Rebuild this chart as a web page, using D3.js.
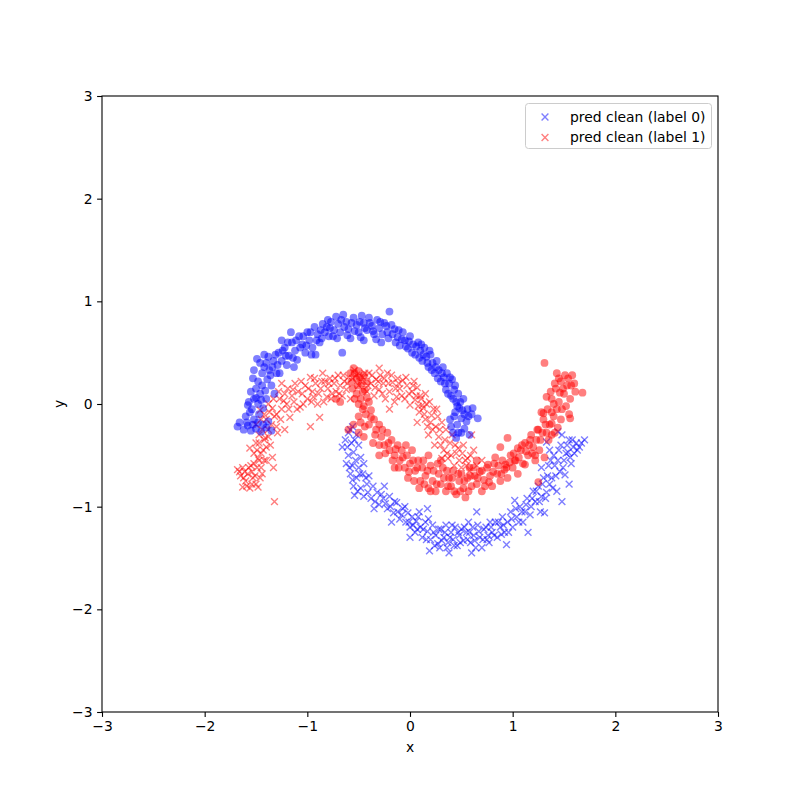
<!DOCTYPE html>
<html>
<head>
<meta charset="utf-8">
<script src="https://cdn.jsdelivr.net/npm/d3@7"></script>
<style>
  html, body { margin: 0; padding: 0; background: #fff; }
  text { font-family: "DejaVu Sans", sans-serif; }
</style>
</head>
<body>
<svg id="chart" width="800" height="800"></svg>
<script>
// ---------- data ----------
const ticks = [-3, -2, -1, 0, 1, 2, 3];
const legendLabels = ["pred clean (label 0)", "pred clean (label 1)"];

const blueCircles = [
[-1.68,-0.22],[-1.62,-0.25],[-1.58,-0.21],[-1.55,-0.26],[-1.50,-0.24],[-1.45,-0.27],[-1.40,-0.23],[-1.35,-0.26],
[-1.60,-0.12],[-1.56,-0.08],[-1.52,-0.15],[-1.47,-0.10],[-1.57,0.02],[-1.52,0.05],[-1.48,0.00],[-1.43,-0.04],
[-1.55,0.12],[-1.50,0.15],[-1.46,0.10],[-1.41,0.13],[-1.53,0.25],[-1.48,0.22],[-1.44,0.30],[-1.39,0.24],[-1.35,0.18],
[-1.46,0.40],[-1.42,0.36],[-1.37,0.33],[-1.33,0.42],[-1.30,0.30],[-1.38,0.46],[-1.32,0.10],[-1.40,0.05],
[-1.28,0.50],[-1.25,0.42],[-1.22,0.55],[-1.20,0.38],[-1.18,0.47],[-1.15,0.60],[-1.12,0.52],[-1.10,0.43],[-1.08,0.66],
[-1.05,0.58],[-1.02,0.50],[-1.00,0.70],[-0.98,0.62],[-0.95,0.55],[-0.93,0.75],[-0.90,0.68],[-0.88,0.60],[-0.85,0.78],
[-0.83,0.70],[-1.16,0.70],[-1.25,0.62],[-0.92,0.48],
[-0.80,0.82],[-0.78,0.74],[-0.75,0.66],[-0.72,0.85],[-0.70,0.78],[-0.68,0.70],[-0.65,0.87],[-0.62,0.80],[-0.60,0.73],
[-0.58,0.64],[-0.55,0.84],[-0.52,0.77],[-0.50,0.70],[-0.47,0.86],[-0.45,0.79],[-0.42,0.72],[-0.40,0.84],[-0.37,0.76],
[-0.35,0.68],[-0.32,0.82],[-0.30,0.74],[-0.28,0.60],[-0.25,0.79],[-0.22,0.70],[-0.20,0.90],[-0.66,0.50],[-0.45,0.62],[-0.18,0.77],
[-0.15,0.73],[-0.12,0.65],[-0.10,0.57],[-0.07,0.70],[-0.05,0.62],[-0.02,0.54],[0.00,0.66],[0.03,0.58],[0.05,0.48],
[0.08,0.60],[0.10,0.52],[0.12,0.42],[0.14,0.55],[0.16,0.46],[0.18,0.36],[0.20,0.48],[0.22,0.40],[0.24,0.30],[0.26,0.42],
[0.28,0.33],[0.30,0.22],[0.32,0.36],[0.33,0.26],[0.35,0.14],[0.36,0.30],[0.38,0.20],[0.40,0.08],[0.41,0.24],[0.43,0.14],
[0.45,0.02],[0.44,-0.08],[0.47,0.10],[0.48,-0.04],[0.50,-0.14],[0.46,-0.20],[0.52,0.05],[0.53,-0.10],[0.55,-0.17],
[0.50,-0.28],[0.45,-0.33],[0.57,-0.12],[0.60,-0.10],[0.39,-0.15],[0.42,-0.28],[0.61,-0.04],[0.58,-0.30],[0.66,-0.14],
[-1.66,-0.18],[-1.59,-0.18],[-1.53,-0.20],[-1.48,-0.18],[-1.43,-0.20],[-1.38,-0.17],[-1.58,-0.01],[-1.54,-0.05],
[-1.50,0.06],[-1.45,0.04],[-1.44,0.18],[-1.40,0.40],[-1.36,0.28],[-1.34,0.36],[-1.31,0.48],[-1.29,0.38],[-1.27,0.30],
[-1.52,0.33],[-1.49,0.44],[-1.42,0.48],
[-1.24,0.52],[-1.21,0.47],[-1.19,0.60],[-1.14,0.45],[-1.11,0.62],[-1.07,0.55],[-1.04,0.66],[-1.01,0.57],[-0.97,0.70],
[-0.96,0.48],[-0.91,0.62],[-0.87,0.72],[-0.86,0.64],[-0.81,0.75],[-0.79,0.66],[-1.13,0.36],
[-0.77,0.80],[-0.74,0.72],[-0.71,0.64],[-0.67,0.82],[-0.64,0.75],[-0.61,0.67],[-0.57,0.79],[-0.54,0.71],[-0.49,0.80],
[-0.48,0.65],[-0.44,0.74],[-0.39,0.79],[-0.36,0.71],[-0.33,0.63],[-0.29,0.80],[-0.27,0.68],[-0.23,0.76],[-0.21,0.64],
[-0.17,0.68],[-0.14,0.60],[-0.11,0.72],[-0.08,0.63],[-0.04,0.56],[-0.01,0.61],[0.02,0.50],[0.06,0.56],[0.09,0.45],
[0.11,0.58],[0.13,0.48],[0.17,0.40],[0.19,0.52],[0.21,0.33],[0.25,0.36],[0.27,0.25],[0.31,0.30],[0.34,0.20],[0.37,0.10],
[0.39,0.26],[0.42,0.05],[0.44,0.18],[0.46,-0.02],[0.49,0.02],[0.51,-0.06],[0.47,-0.28],[0.53,-0.24],[0.56,-0.05],
[0.40,-0.22],[0.43,-0.12]
];

const redCircles = [
[-0.58,0.30],[-0.55,0.35],[-0.52,0.25],[-0.50,0.32],[-0.47,0.20],[-0.45,0.28],[-0.56,0.15],[-0.52,0.10],[-0.48,0.05],
[-0.44,0.14],[-0.42,0.22],[-0.40,0.02],[-0.46,-0.05],[-0.50,-0.12],[-0.43,-0.10],[-0.38,-0.06],[-0.35,-0.15],[-0.40,-0.20],
[-0.55,-0.20],[-0.60,-0.25],[-0.50,-0.28],[-0.45,-0.32],[-0.72,0.05],[-0.68,0.02],[-0.33,-0.25],[-0.30,-0.20],[-0.28,-0.32],
[-0.36,-0.38],[-0.25,-0.40],[-0.22,-0.28],[-0.20,-0.45],[-0.18,-0.35],[-0.15,-0.50],[-0.12,-0.40],[-0.10,-0.55],[-0.08,-0.45],
[-0.05,-0.62],[-0.03,-0.50],[0.00,-0.58],[-0.30,-0.50],[-0.15,-0.62],[-0.02,-0.72],[0.02,-0.45],
[0.05,-0.65],[0.08,-0.55],[0.10,-0.75],[0.12,-0.62],[0.15,-0.70],[0.18,-0.82],[0.20,-0.60],[0.22,-0.75],[0.25,-0.85],
[0.28,-0.68],[0.30,-0.78],[0.32,-0.62],[0.35,-0.85],[0.38,-0.72],[0.40,-0.80],[0.42,-0.65],[0.45,-0.88],[0.48,-0.75],
[0.50,-0.68],[0.52,-0.82],[0.54,-0.91],[0.56,-0.72],[0.58,-0.62],[0.60,-0.80],[0.63,-0.70],[0.65,-0.78],[0.68,-0.66],
[0.70,-0.85],[0.72,-0.74],[0.75,-0.62],[0.78,-0.70],[0.80,-0.80],[0.82,-0.58],[0.85,-0.68],[0.88,-0.75],[0.90,-0.55],
[0.92,-0.64],[0.95,-0.72],[0.98,-0.50],[1.00,-0.62],[1.03,-0.55],[1.05,-0.68],[0.30,-0.55],[0.18,-0.50],[0.65,-0.55],
[1.08,-0.45],[1.10,-0.58],[1.12,-0.38],[1.15,-0.50],[1.18,-0.30],[1.20,-0.42],[1.22,-0.55],[1.25,-0.25],[1.25,-0.76],
[1.27,-0.35],[1.30,-0.15],[1.31,-0.52],[1.33,-0.28],[1.34,-0.05],[1.36,-0.20],[1.38,0.05],[1.40,-0.12],[1.42,0.15],
[1.44,-0.23],[1.45,0.02],[1.47,0.22],[1.48,-0.05],[1.50,0.10],[1.51,0.28],[1.53,0.18],[1.55,-0.10],[1.56,0.05],
[1.58,0.28],[1.61,0.12],[1.60,0.20],[1.68,0.11],[1.31,0.40],[1.38,-0.30],[1.28,-0.08],[1.43,0.30],
[1.41,0.20],[1.46,0.11],[1.33,0.07],[1.38,-0.08],[1.30,-0.09],[1.56,-0.14],[1.38,-0.19],[1.24,-0.25],[1.17,-0.35],
[0.95,-0.33],[0.88,-0.42],[1.05,-0.43],[0.83,-0.52],[1.22,-0.50],[0.76,-0.59],[0.93,-0.59],[1.02,-0.55],[1.12,-0.59],
[-0.57,0.22],[-0.54,0.30],[-0.51,0.18],[-0.49,0.26],[-0.46,0.12],[-0.54,0.05],[-0.50,0.00],[-0.45,-0.02],[-0.42,0.06],
[-0.48,-0.18],[-0.44,-0.22],[-0.38,-0.13],[-0.34,-0.30],[-0.30,-0.40],[-0.27,-0.25],[-0.24,-0.48],[-0.21,-0.38],
[-0.17,-0.55],[-0.14,-0.44],[-0.11,-0.62],[-0.07,-0.52],[-0.04,-0.40],[-0.01,-0.66],[0.03,-0.55],[0.04,-0.75],
[0.07,-0.62],[0.09,-0.82],[0.13,-0.55],[0.14,-0.78],[0.17,-0.65],[0.20,-0.85],[0.23,-0.65],[0.26,-0.78],[0.27,-0.58],
[0.33,-0.72],[0.36,-0.65],[0.37,-0.80],[0.41,-0.72],[0.43,-0.85],[0.47,-0.68],[0.49,-0.85],[0.53,-0.75],[0.57,-0.85],
[0.59,-0.70],[0.62,-0.62],[0.66,-0.72],[0.70,-0.65],[0.73,-0.80],[0.77,-0.76],[0.81,-0.66],[0.86,-0.60],[0.89,-0.68],
[0.94,-0.62],[0.97,-0.57],[1.01,-0.48],[1.06,-0.52],[1.09,-0.40],[1.13,-0.46],[1.16,-0.40],[1.19,-0.48],[1.23,-0.35],
[1.26,-0.45],[1.29,-0.28],[1.32,-0.20],[1.35,-0.35],[1.37,0.12],[1.40,0.00],[1.43,-0.05],[1.45,0.25],[1.49,0.15],
[1.52,-0.02],[1.54,0.25],[1.57,0.18],[1.41,-0.28],[1.47,-0.15]
];

const blueCrosses = [
[-0.56,-0.22],[-0.60,-0.28],[-0.52,-0.30],[-0.63,-0.35],[-0.57,-0.38],[-0.66,-0.42],[-0.50,-0.40],[-0.60,-0.50],[-0.55,-0.47],
[-0.48,-0.52],[-0.62,-0.58],[-0.56,-0.60],[-0.50,-0.62],[-0.45,-0.58],[-0.58,-0.68],[-0.52,-0.72],[-0.46,-0.68],[-0.40,-0.70],
[-0.55,-0.80],[-0.48,-0.82],[-0.42,-0.78],[-0.36,-0.80],[-0.54,-0.89],[-0.45,-0.90],[-0.38,-0.92],[-0.32,-0.86],[-0.30,-0.98],
[-0.26,-0.92],[-0.22,-1.02],[-0.20,-0.90],[-0.35,-1.02],[-0.16,-1.06],[-0.13,-0.96],[-0.10,-1.12],[-0.07,-1.02],[-0.04,-1.15],
[-0.02,-1.06],[0.00,-1.20],[0.02,-1.10],[0.05,-1.25],[0.06,-1.14],[0.09,-1.05],[0.10,-1.20],[0.12,-1.30],[0.15,-1.15],
[0.17,-1.24],[0.19,-1.43],[0.20,-1.32],[0.22,-1.18],[0.25,-1.28],[0.27,-1.36],[0.29,-1.40],[0.30,-1.22],[0.33,-1.30],
[0.35,-1.18],[0.37,-1.35],[0.40,-1.25],[0.42,-1.32],[0.44,-1.20],[0.46,-1.38],[0.48,-1.28],[0.50,-1.22],[0.52,-1.33],
[0.55,-1.25],[0.57,-1.15],[0.59,-1.35],[0.62,-1.28],[0.64,-1.40],[0.66,-1.18],[0.68,-1.30],[0.70,-1.40],[0.72,-1.22],
[0.75,-1.32],[0.76,-1.28],[0.78,-1.15],[0.80,-1.25],[0.83,-1.15],[0.85,-1.30],[0.88,-1.20],[0.90,-1.10],[0.92,-1.25],
[0.94,-1.37],[0.95,-1.15],[0.98,-1.05],[1.00,-1.20],[1.02,-0.94],[1.04,-1.10],[1.07,-1.00],[1.10,-1.15],[1.12,-1.05],
[1.14,-0.92],[1.15,-1.25],[1.18,-1.00],[1.20,-0.85],[1.22,-0.95],[1.25,-0.80],[1.27,-1.05],[1.28,-0.90],[1.31,-1.06],
[1.30,-0.72],[1.33,-0.86],[1.35,-0.60],[1.36,-0.78],[1.38,-0.72],[1.40,-0.50],[1.41,-0.60],[1.43,-0.85],[1.44,-0.27],
[1.45,-0.45],[1.46,-0.66],[1.48,-0.95],[1.48,-0.30],[1.50,-0.55],[1.51,-0.69],[1.53,-0.40],[1.54,-0.47],[1.55,-0.78],
[1.57,-0.58],[1.58,-0.35],[1.60,-0.48],[1.62,-0.38],[1.65,-0.42],[1.70,-0.35],[1.33,-0.37],[1.36,-0.45],[1.28,-0.62],
[0.00,-1.30],[-0.18,-1.15],[0.38,-1.45],[0.60,-1.45],[-0.25,-0.80],[0.17,-1.02],[0.65,-1.05],
[-0.58,-0.25],[-0.54,-0.35],[-0.61,-0.42],[-0.53,-0.55],[-0.59,-0.62],[-0.49,-0.68],[-0.56,-0.74],[-0.43,-0.72],
[-0.51,-0.85],[-0.41,-0.86],[-0.34,-0.95],[-0.28,-0.88],[-0.24,-0.97],[-0.19,-1.00],[-0.15,-0.95],[-0.12,-1.05],
[-0.08,-1.08],[-0.05,-1.00],[-0.01,-1.15],[0.03,-1.18],[0.07,-1.22],[0.08,-1.10],[0.13,-1.22],[0.16,-1.32],[0.18,-1.12],
[0.23,-1.25],[0.24,-1.38],[0.28,-1.22],[0.31,-1.33],[0.34,-1.25],[0.36,-1.40],[0.39,-1.30],[0.41,-1.18],[0.43,-1.38],
[0.47,-1.25],[0.49,-1.35],[0.53,-1.20],[0.56,-1.32],[0.58,-1.25],[0.61,-1.20],[0.63,-1.33],[0.67,-1.24],[0.71,-1.32],
[0.74,-1.20],[0.77,-1.35],[0.79,-1.20],[0.82,-1.28],[0.86,-1.15],[0.89,-1.27],[0.91,-1.18],[0.96,-1.25],[0.99,-1.12],
[1.03,-1.02],[1.06,-1.15],[1.09,-1.05],[1.13,-0.98],[1.17,-1.08],[1.19,-0.92],[1.23,-0.85],[1.26,-0.95],[1.29,-0.78],
[1.32,-0.92],[1.34,-0.70],[1.37,-0.55],[1.39,-0.82],[1.42,-0.70],[1.44,-0.55],[1.47,-0.40],[1.49,-0.62],[1.52,-0.48],
[1.55,-0.35],[1.56,-0.52],[1.59,-0.42],[1.63,-0.45],[1.67,-0.38]
];

const redCrosses = [
[-1.68,-0.64],[-1.65,-0.70],[-1.63,-0.81],[-1.63,-0.62],[-1.60,-0.75],[-1.58,-0.68],[-1.56,-0.82],[-1.55,-0.60],[-1.53,-0.72],
[-1.50,-0.78],[-1.48,-0.81],[-1.48,-0.53],[-1.46,-0.72],[-1.45,-0.62],[-1.52,-0.48],[-1.56,-0.43],[-1.50,-0.38],[-1.47,-0.30],
[-1.43,-0.45],[-1.41,-0.33],[-1.40,-0.55],[-1.38,-0.25],[-1.36,-0.40],[-1.34,-0.52],[-1.33,-0.62],[-1.32,-0.95],[-1.50,-0.20],
[-1.45,-0.15],[-1.46,-0.06],[-1.42,-0.10],[-1.38,0.00],[-1.34,-0.04],[-1.30,-0.22],[-1.29,-0.28],[-1.30,-0.10],[-1.27,0.05],
[-1.25,0.20],[-1.25,-0.05],[-1.22,-0.25],[-1.22,0.10],[-1.20,0.00],[-1.17,-0.13],[-1.15,0.08],[-1.14,0.14],[-1.12,0.20],
[-1.10,-0.05],[-1.07,-0.03],[-1.05,0.10],[-1.02,0.18],[-1.00,0.05],[-0.97,0.26],[-0.97,-0.22],[-0.95,0.12],[-0.94,0.07],
[-0.92,0.20],[-0.90,0.00],[-0.88,-0.13],[-0.87,0.15],[-0.85,0.30],[-0.83,0.22],[-0.81,0.07],[-0.80,0.15],[-0.78,0.25],
[-0.76,0.10],[-0.74,0.20],[-0.72,0.12],[-0.70,0.28],[-0.68,0.18],[-0.66,0.08],[-0.64,0.22],[-0.62,0.14],[-0.60,0.26],[-0.58,0.05],
[-0.54,0.33],[-0.50,0.18],[-0.46,0.26],[-0.42,0.12],[-0.40,0.30],[-0.38,0.20],[-0.35,0.08],[-0.33,0.24],[-0.30,0.14],
[-0.29,0.28],[-0.26,0.20],[-0.24,0.05],[-0.22,0.30],[-0.20,0.12],[-0.17,0.21],[-0.15,0.02],[-0.13,0.07],[-0.12,0.25],
[-0.10,0.15],[-0.07,0.23],[-0.05,0.05],[-0.03,0.18],[0.00,-0.01],[0.02,0.12],[0.04,0.22],[0.05,0.04],[0.07,0.16],
[0.07,-0.18],[0.09,-0.08],[0.10,0.08],[0.12,-0.01],[0.13,-0.04],[0.15,0.10],[0.15,-0.15],[0.17,-0.22],[0.18,-0.30],
[0.19,0.02],[0.21,-0.11],[0.22,-0.25],[0.24,-0.40],[0.26,-0.05],[0.28,-0.32],[0.31,-0.18],[0.31,-0.53],[0.33,-0.45],
[0.35,-0.25],[0.37,-0.53],[0.39,-0.38],[0.41,-0.30],[0.43,-0.60],[0.45,-0.48],[0.47,-0.43],[0.50,-0.62],[0.52,-0.40],
[0.54,-0.55],[0.56,-0.53],[0.58,-0.65],[0.60,-0.30],[0.62,-0.45],[0.65,-0.60],[0.70,-0.55],[-0.20,-0.05],[-0.30,0.35],[0.27,-0.12],
[-1.66,-0.66],[-1.62,-0.72],[-1.61,-0.66],[-1.59,-0.80],[-1.57,-0.62],[-1.54,-0.78],[-1.54,-0.66],[-1.52,-0.58],[-1.51,-0.70],
[-1.49,-0.62],[-1.49,-0.45],[-1.47,-0.55],[-1.47,-0.38],[-1.45,-0.48],[-1.44,-0.25],[-1.44,-0.68],[-1.42,-0.35],[-1.42,-0.55],
[-1.40,-0.15],[-1.40,-0.42],[-1.38,-0.32],[-1.37,-0.08],[-1.35,-0.20],[-1.33,0.05],[-1.32,-0.12],[-1.28,0.12],[-1.26,-0.15],
[-1.23,0.03],[-1.19,0.15],[-1.18,-0.05],[-1.13,0.02],[-1.09,0.12],[-1.06,0.22],[-1.04,0.00],[-0.99,0.15],[-0.96,0.02],
[-0.93,0.25],[-0.89,0.10],[-0.86,0.22],[-0.84,0.02],[-0.79,0.20],[-0.77,0.05],[-0.73,0.25],[-0.69,0.10],[-0.65,0.28],
[-0.61,0.20],[-0.56,0.25],[-0.52,0.28],[-0.48,0.22],[-0.44,0.30],[-0.41,0.18],[-0.37,0.28],[-0.34,0.16],[-0.31,0.22],
[-0.27,0.10],[-0.25,0.25],[-0.21,0.20],[-0.18,0.28],[-0.14,0.15],[-0.11,0.20],[-0.08,0.08],[-0.04,0.26],[-0.01,0.10],
[0.03,0.18],[0.06,0.08],[0.08,-0.02],[0.11,0.05],[0.14,-0.10],[0.16,0.00],[0.20,-0.18],[0.23,-0.05],[0.25,-0.22],
[0.29,-0.25],[0.30,-0.40],[0.34,-0.35],[0.36,-0.48],[0.40,-0.50],[0.44,-0.40],[0.48,-0.55],[0.51,-0.48],[0.55,-0.60],[0.59,-0.50]
];

// ---------- layout ----------
const svg = d3.select("#chart");
svg.append("rect").attr("width", 800).attr("height", 800).attr("fill", "#fff");

const plot = { left: 102, right: 718, top: 96, bottom: 712 };
const x = d3.scaleLinear().domain([-3, 3]).range([plot.left, plot.right]);
const y = d3.scaleLinear().domain([-3, 3]).range([plot.bottom, plot.top]);

const fontSize = "13.9px";
const blue = "#0000ff", red = "#ff0000";
const alpha = 0.5;
const R = 3.9, H = 3.4;
const crossPath = `M${-H},${-H}L${H},${H}M${-H},${H}L${H},${-H}`;

svg.append("clipPath").attr("id", "clip").append("rect")
  .attr("x", plot.left).attr("y", plot.top)
  .attr("width", plot.right - plot.left).attr("height", plot.bottom - plot.top);

const g = svg.append("g").attr("clip-path", "url(#clip)");

function circles(data, color) {
  g.append("g").selectAll("circle").data(data).join("circle")
    .attr("cx", d => x(d[0])).attr("cy", d => y(d[1])).attr("r", R)
    .attr("fill", color).attr("fill-opacity", alpha);
}
function crosses(data, color) {
  g.append("g").selectAll("path").data(data).join("path")
    .attr("d", crossPath)
    .attr("transform", d => `translate(${x(d[0])},${y(d[1])})`)
    .attr("fill", "none").attr("stroke", color).attr("stroke-width", 1.4)
    .attr("stroke-opacity", alpha);
}

crosses(blueCrosses, blue);
crosses(redCrosses, red);
circles(blueCircles, blue);
circles(redCircles, red);

// axes
const fmt = d3.format("d");
const xAxis = svg.append("g").attr("transform", `translate(0,${plot.bottom})`)
  .call(d3.axisBottom(x).tickValues(ticks).tickFormat(fmt).tickSize(4.9).tickPadding(4.6));
const yAxis = svg.append("g").attr("transform", `translate(${plot.left},0)`)
  .call(d3.axisLeft(y).tickValues(ticks).tickFormat(fmt).tickSize(4.9).tickPadding(4.6));
[xAxis, yAxis].forEach(a => {
  a.select(".domain").remove();
  a.selectAll(".tick line").attr("stroke", "#000").attr("stroke-width", 1.1);
  a.selectAll(".tick text").attr("fill", "#000")
    .style("font-size", fontSize).style("font-family", "DejaVu Sans, sans-serif");
});

svg.append("rect")
  .attr("x", plot.left).attr("y", plot.top)
  .attr("width", plot.right - plot.left).attr("height", plot.bottom - plot.top)
  .attr("fill", "none").attr("stroke", "#000").attr("stroke-width", 1.1);

// axis labels
svg.append("text").attr("x", (plot.left + plot.right) / 2).attr("y", 752)
  .attr("text-anchor", "middle").style("font-size", fontSize).text("x");
svg.append("text")
  .attr("transform", `translate(64,${(plot.top + plot.bottom) / 2}) rotate(-90)`)
  .attr("text-anchor", "middle").style("font-size", fontSize).text("y");

// legend
const leg = svg.append("g");
leg.append("rect").attr("x", 525.5).attr("y", 103.5).attr("width", 186).attr("height", 45)
  .attr("rx", 3).attr("fill", "#fff").attr("fill-opacity", 0.8)
  .attr("stroke", "#cccccc").attr("stroke-width", 1);
[blue, red].forEach((c, i) => {
  const cy = 117 + i * 20.5;
  leg.append("path").attr("d", crossPath)
    .attr("transform", `translate(545,${cy})`)
    .attr("fill", "none").attr("stroke", c).attr("stroke-width", 1.4).attr("stroke-opacity", alpha);
  leg.append("text").attr("x", 570).attr("y", cy + 4.8)
    .style("font-size", fontSize).attr("fill", "#000").text(legendLabels[i]);
});
</script>
</body>
</html>
